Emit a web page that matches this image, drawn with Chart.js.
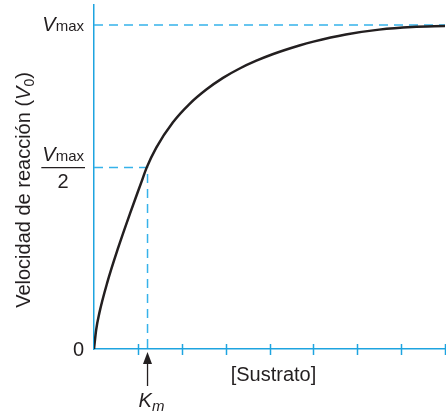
<!DOCTYPE html>
<html>
<head>
<meta charset="utf-8">
<script src="https://cdn.jsdelivr.net/npm/chart.js@4.4.0/dist/chart.umd.min.js"></script>
<style>
  html, body { margin: 0; padding: 0; background: #fff; }
  #wrap { width: 446px; height: 415px; }
</style>
</head>
<body>
<div id="wrap"><canvas id="mm"></canvas></div>
<script>
// curve (x: substrate, y: fraction of Vmax)
const sustrato  = [0, 0.05, 0.12, 0.3, 0.55, 0.82, 1.08, 1.2, 1.42, 1.8, 2.18, 2.56, 2.94, 3.32, 3.7, 4.07, 4.68, 5.0, 5.74, 6.5, 7.25, 8];
const velocidad = [0, 0.06, 0.11, 0.204, 0.312, 0.418, 0.515, 0.56, 0.622, 0.700, 0.757, 0.801, 0.837, 0.866, 0.890, 0.910, 0.937, 0.949, 0.971, 0.986, 0.994, 0.997];
const xTicks = [1, 2, 3, 4, 5, 6, 7, 8];
const vmax = 1;
const vHalf = 0.56;
const km = 1.22;

const blue = '#1ea4e0';
const dashBlue = '#36b2ea';
const fam = '"Liberation Sans", Arial, sans-serif';

function richText(ctx, parts, x, y, align) {
    // parts: [text, font, dy]
    let total = 0;
    parts.forEach(p => { ctx.font = p[1]; total += ctx.measureText(p[0]).width; });
    let cx = align === 'right' ? x - total : align === 'center' ? x - total / 2 : x;
    parts.forEach(p => {
        ctx.font = p[1];
        ctx.fillText(p[0], cx, y + (p[2] || 0));
        cx += ctx.measureText(p[0]).width;
    });
    return total;
}

const extras = {
    id: 'extras',
    afterDraw(chart) {
        const ctx = chart.ctx;
        const xs = chart.scales.x, ys = chart.scales.y;
        const area = chart.chartArea;
        const y0 = ys.getPixelForValue(0);

        ctx.save();
        // ticks crossing the x axis
        ctx.strokeStyle = blue;
        ctx.lineWidth = 1.5;
        xTicks.forEach(t => {
            const px = Math.round(xs.getPixelForValue(t)) + 0.5;
            ctx.beginPath();
            ctx.moveTo(px, y0 - 5);
            ctx.lineTo(px, y0 + 6);
            ctx.stroke();
        });

        ctx.fillStyle = '#231f20';
        ctx.textBaseline = 'alphabetic';

        // 0
        ctx.font = '20px ' + fam;
        ctx.textAlign = 'right';
        ctx.fillText('0', 84, y0 + 7);
        ctx.textAlign = 'left';

        // Vmax
        const yMax = ys.getPixelForValue(vmax);
        richText(ctx, [['V', 'italic 20px ' + fam], ['max', '15px ' + fam]], 84, yMax + 6, 'right');

        // Vmax / 2
        const yH = ys.getPixelForValue(vHalf);
        const w = richText(ctx, [['V', 'italic 20px ' + fam], ['max', '15px ' + fam]], 84, yH - 7, 'right');
        ctx.strokeStyle = '#231f20';
        ctx.lineWidth = 1.3;
        ctx.beginPath();
        ctx.moveTo(84 - w - 1, yH);
        ctx.lineTo(85, yH);
        ctx.stroke();
        ctx.font = '20px ' + fam;
        ctx.textAlign = 'center';
        ctx.fillText('2', 84 - w / 2, yH + 20);

        // [Sustrato]
        ctx.fillText('[Sustrato]', (area.left + area.right) / 2 + 4, 381);
        ctx.textAlign = 'left';

        // Km arrow
        const xk = xs.getPixelForValue(km);
        ctx.beginPath();
        ctx.moveTo(xk, y0 + 12);
        ctx.lineTo(xk, y0 + 37);
        ctx.stroke();
        ctx.beginPath();
        ctx.moveTo(xk, y0 + 3);
        ctx.lineTo(xk - 4.5, y0 + 15);
        ctx.lineTo(xk + 4.5, y0 + 15);
        ctx.closePath();
        ctx.fill();
        richText(ctx, [['K', 'italic 20px ' + fam], ['m', 'italic 15px ' + fam, 4]], xk + 4, 407, 'center');

        // y axis title
        ctx.translate(23, 190);
        ctx.rotate(-Math.PI / 2);
        richText(ctx, [
            ['Velocidad de reacción (', '20px ' + fam],
            ['V', 'italic 20px ' + fam],
            ['0', '14px ' + fam, 4],
            [')', '20px ' + fam]
        ], 0, 7, 'center');
        ctx.restore();
    }
};

new Chart(document.getElementById('mm'), {
    type: 'line',
    data: {
        datasets: [
            {
                data: sustrato.map((s, i) => ({ x: s, y: velocidad[i] })),
                borderColor: '#231f20',
                borderWidth: 2.5,
                pointRadius: 0,
                cubicInterpolationMode: 'monotone'
            },
            {
                data: [{ x: 0, y: vmax }, { x: xTicks[xTicks.length - 1], y: vmax }],
                borderColor: dashBlue,
                borderWidth: 1.5,
                borderDash: [9, 6],
                pointRadius: 0
            },
            {
                data: [{ x: 0, y: vHalf }, { x: km, y: vHalf }, { x: km, y: 0 }],
                borderColor: dashBlue,
                borderWidth: 1.5,
                borderDash: [9, 6],
                pointRadius: 0
            }
        ]
    },
    options: {
        responsive: true,
        maintainAspectRatio: false,
        animation: false,
        layout: { padding: { left: 94, right: 1, top: 5, bottom: 66 } },
        plugins: { legend: { display: false }, tooltip: { enabled: false } },
        scales: {
            x: {
                type: 'linear', min: 0, max: 8,
                grid: { display: false, drawTicks: false },
                ticks: { display: false },
                border: { color: blue, width: 1.5 }
            },
            y: {
                type: 'linear', min: 0, max: 1.062,
                grid: { display: false, drawTicks: false },
                ticks: { display: false },
                border: { color: blue, width: 1.5 }
            }
        }
    },
    plugins: [extras]
});
</script>
</body>
</html>
